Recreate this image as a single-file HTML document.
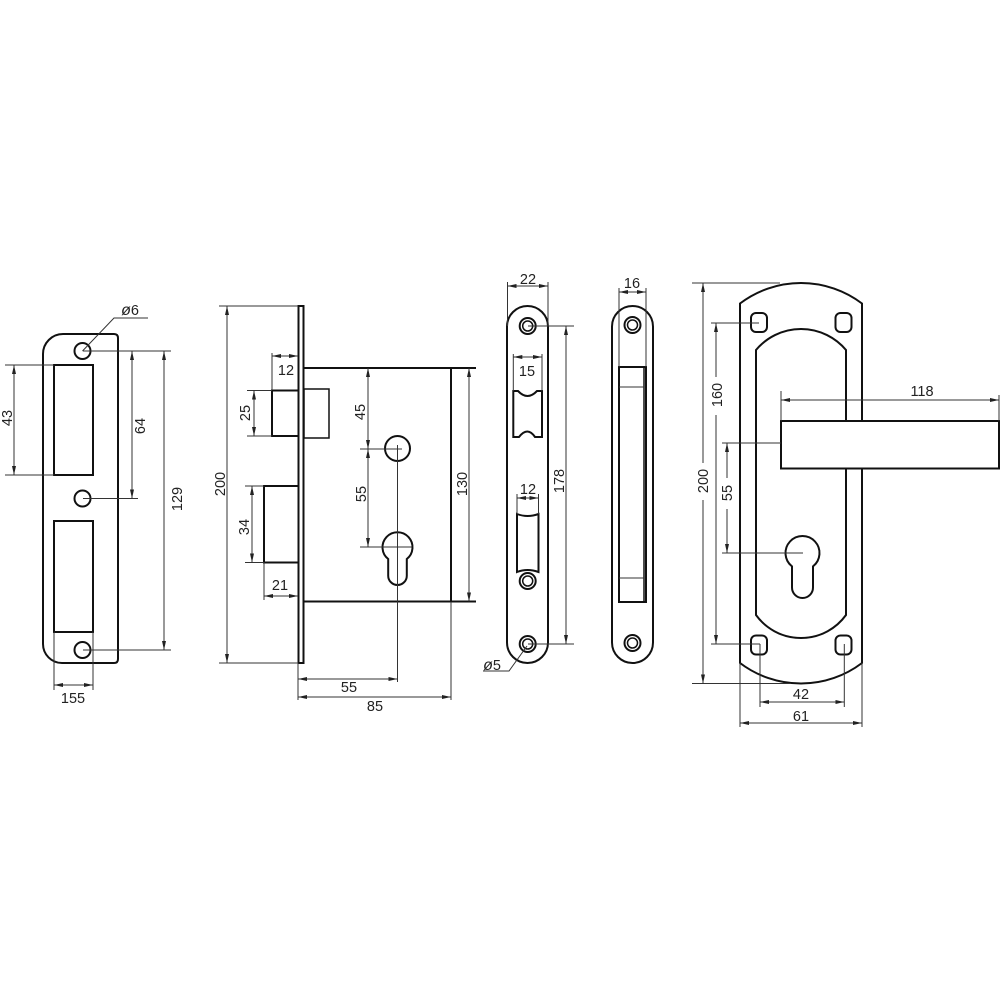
<!DOCTYPE html>
<html><head><meta charset="utf-8">
<style>
html,body{margin:0;padding:0;background:#fff;width:1000px;height:1000px;overflow:hidden}
svg{display:block}
text{font-family:"Liberation Sans",sans-serif;font-size:14.5px;fill:#222;text-anchor:middle}
.k{fill:#fff;stroke:#111;stroke-width:2}
.n{fill:none;stroke:#111;stroke-width:2}
.i{fill:none;stroke:#111;stroke-width:1.5}
.t{fill:none;stroke:#333;stroke-width:1}
.d{fill:none;stroke:#333;stroke-width:1;marker-start:url(#a);marker-end:url(#a)}
.s{fill:none;stroke:#333;stroke-width:1;marker-start:url(#a)}
.e{fill:none;stroke:#333;stroke-width:1;marker-end:url(#a)}
</style></head><body>
<svg width="1000" height="1000" viewBox="0 0 1000 1000" xmlns="http://www.w3.org/2000/svg">
<defs>
<marker id="a" markerUnits="userSpaceOnUse" markerWidth="10" markerHeight="6" refX="9" refY="3" orient="auto-start-reverse"><path d="M0 1L9 3L0 5Z" fill="#222"/></marker>
</defs>

<!-- Strike plate -->
<path class="k" d="M63 334H114Q118 334 118 338V659Q118 663 114 663H62A19 19 0 0 1 43 644V354A20 20 0 0 1 63 334Z"/>
<rect class="n" x="54" y="365" width="39" height="110"/>
<rect class="n" x="54" y="521" width="39" height="111"/>
<circle class="n" cx="82.500" cy="351" r="8"/>
<circle class="n" cx="82.500" cy="498.500" r="8"/>
<circle class="n" cx="82.500" cy="650" r="8"/>
<path class="t" d="M5 365H54M5 475H54M83 351H171M83 498.500H138M83 650H171M54 632V690M93 632V690M82.500 351L114 318H148"/>
<path class="d" d="M14 365V475"/><path class="d" d="M132 351V498.500"/><path class="d" d="M164 351V650"/><path class="d" d="M54 685H93"/>
<text transform="translate(12,418) rotate(-90)">43</text>
<text transform="translate(145,426) rotate(-90)">64</text>
<text transform="translate(182,499) rotate(-90)">129</text>
<text x="73" y="703">155</text>
<text x="130" y="315"><tspan font-style="italic" font-size="16">ø</tspan>6</text>

<!-- Mortise body -->
<path class="n" d="M304 368H476M304 601.500H476M451 368V601.500"/>
<rect class="k" x="298.500" y="306" width="5" height="357"/>
<rect class="n" x="272" y="390.500" width="26.500" height="45.500"/>
<rect class="i" x="304" y="389" width="25" height="49"/>
<rect class="n" x="264" y="486" width="34.500" height="76.500"/>
<circle class="n" cx="397.500" cy="448.500" r="12.500"/>
<path class="n" d="M388.200 559A15 15 0 1 1 406.800 559V575.700A9.300 9.300 0 0 1 388.200 575.700Z"/>
<path class="t" d="M219 306H298M219 663H298M272 353V390M247 390.500H272M247 436H272M245 486H264M245 562.500H264M264 562V600M360 449H402M360 547H412M397.500 445V682M298 663V700M451 602V700"/>
<path class="d" d="M227 306V663"/><path class="d" d="M272 356H298"/><path class="d" d="M254 390.500V436"/><path class="d" d="M252 486V562.500"/><path class="d" d="M264 596H298"/><path class="d" d="M368 368V449"/><path class="d" d="M368 449V547"/><path class="d" d="M469 368V601.500"/><path class="d" d="M298 679H397.500"/><path class="d" d="M298 697H451"/>
<text x="286" y="375">12</text>
<text transform="translate(250,413) rotate(-90)">25</text>
<text transform="translate(249,527) rotate(-90)">34</text>
<text x="280" y="590">21</text>
<text transform="translate(365,412) rotate(-90)">45</text>
<text transform="translate(366,494) rotate(-90)">55</text>
<text transform="translate(225,484) rotate(-90)">200</text>
<text transform="translate(467,484) rotate(-90)">130</text>
<text x="349" y="692">55</text>
<text x="375" y="711">85</text>

<!-- Face plate front -->
<rect class="k" x="507" y="306" width="41" height="357" rx="20.500"/>
<path class="n" d="M513.300 391H518Q527.500 401 537 391H542V437H535Q527.500 426 519 437H513.300Z"/>
<path class="n" d="M517 514Q527.500 518 538.500 514V572Q527.500 568 517 572Z"/>
<circle class="n" cx="527.700" cy="326" r="8"/><circle class="i" cx="527.700" cy="326" r="5"/>
<circle class="k" cx="527.700" cy="581" r="8"/><circle class="i" cx="527.700" cy="581" r="5"/>
<circle class="n" cx="527.700" cy="644" r="8"/><circle class="i" cx="527.700" cy="644" r="5"/>
<path class="t" d="M507.500 282V326M548 282V326M513.300 354V391M542 354V391M517 494V514M538.500 494V514M528 326H574M528 644H574M527 646L509 671H483"/>
<path class="d" d="M507.500 286H548"/><path class="d" d="M513.300 357H542"/><path class="d" d="M517 498H538.500"/><path class="d" d="M566 326V644"/>
<text x="528" y="284">22</text>
<text x="527" y="376">15</text>
<text x="528" y="494">12</text>
<text transform="translate(564,481) rotate(-90)">178</text>
<text x="492" y="670"><tspan font-style="italic" font-size="16">ø</tspan>5</text>

<!-- Face plate rear -->
<rect class="k" x="612" y="306" width="41" height="357" rx="20.500"/>
<rect class="n" x="619" y="367" width="27" height="235"/>
<path class="i" d="M644 367V602"/>
<path class="t" d="M619 387H644M619 578H644M619 288V367M646 288V367"/>
<circle class="n" cx="632.500" cy="325" r="8"/><circle class="i" cx="632.500" cy="325" r="5"/>
<circle class="n" cx="632.500" cy="643" r="8"/><circle class="i" cx="632.500" cy="643" r="5"/>
<path class="d" d="M619 292H646"/>
<text x="632" y="288">16</text>

<!-- Handle plate -->
<path class="k" d="M740 303.500A101 101 0 0 1 862 303.500V663A101 101 0 0 1 740 663Z"/>
<path class="n" d="M756 350A58.700 58.700 0 0 1 846 350V615A55.500 55.500 0 0 1 756 615Z"/>
<rect class="n" x="751" y="313" width="16" height="19" rx="5"/>
<rect class="n" x="835.500" y="313" width="16" height="19" rx="5"/>
<rect class="n" x="751" y="635.500" width="16" height="19" rx="5"/>
<rect class="n" x="835.500" y="635.500" width="16" height="19" rx="5"/>
<path class="n" d="M792 566.400A17 17 0 1 1 813 566.400V587.500A10.500 10.500 0 0 1 792 587.500Z"/>
<rect class="k" x="781" y="421" width="218" height="47.500"/>
<path class="t" d="M692 283H780M692 683.500H790M711 323H759M711 644H760M722 443H781M722 553H803M781 391V421M999 395V421M760 644V707M844.300 644V707M740 663V727M862 663V727"/>
<path class="s" d="M703 283V463"/><path class="e" d="M703 500V683.500"/>
<path class="s" d="M716 323V377"/><path class="e" d="M716 415V644"/>
<path class="s" d="M727 443V478"/><path class="e" d="M727 509V553"/>
<path class="d" d="M781 400H999"/><path class="d" d="M760 702H844.300"/><path class="d" d="M740 723H862"/>
<text transform="translate(708,481) rotate(-90)">200</text>
<text transform="translate(722,395) rotate(-90)">160</text>
<text transform="translate(732,493) rotate(-90)">55</text>
<text x="922" y="396">118</text>
<text x="801" y="699">42</text>
<text x="801" y="721">61</text>
</svg>
</body></html>
